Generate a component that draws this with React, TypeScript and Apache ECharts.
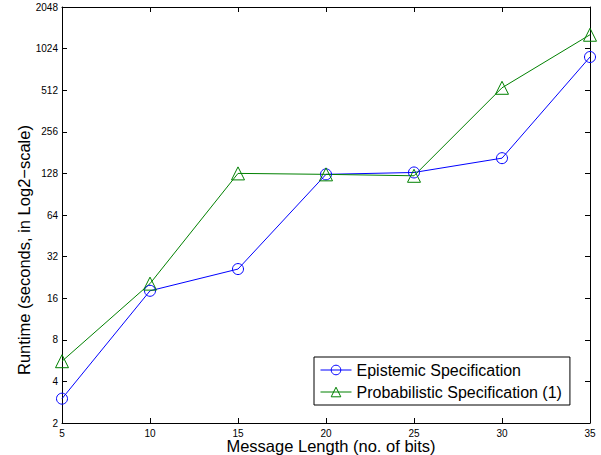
import React, { useEffect, useRef } from "react";
import * as echarts from "echarts";

const messageLengths = [5, 10, 15, 20, 25, 30, 35];
const epistemic = [3.0, 18.1, 26, 126, 130, 165, 890];
const probabilistic = [5.6, 20.4, 128, 126, 123, 533, 1290];
const yTicks = [2, 4, 8, 16, 32, 64, 128, 256, 512, 1024, 2048];

const FONT = "Liberation Sans";

export default function App() {
  const ref = useRef<HTMLDivElement>(null);
  useEffect(() => {
    if (!ref.current) return;
    const chart = echarts.init(ref.current, null, { renderer: "svg" });
    const axisCommon = {
      axisLine: { show: true, lineStyle: { color: "#000", width: 1 } },
      axisTick: { show: true, inside: true, length: 5, lineStyle: { color: "#000" } },
      splitLine: { show: false },
    };
    chart.setOption({
      animation: false,
      backgroundColor: "#fff",
      textStyle: { fontFamily: FONT },
      grid: { left: 62, right: 11, top: 7, bottom: 32 },
      legend: {
        orient: "vertical",
        left: 314,
        top: 357,
        padding: [5, 8, 5, 6],
        itemWidth: 31,
        itemHeight: 12,
        itemGap: 6,
        borderColor: "#000",
        borderWidth: 1,
        backgroundColor: "#fff",
        itemStyle: { borderWidth: 1 },
        lineStyle: { width: 1 },
        textStyle: { fontFamily: FONT, fontSize: 16, color: "#000" },
        data: ["Epistemic Specification", "Probabilistic Specification (1)"],
      },
      graphic: [
        {
          type: "text",
          x: 331,
          y: 446,
          style: {
            text: "Message Length (no. of bits)",
            font: `16.5px "${FONT}"`,
            fill: "#000",
            align: "center",
            verticalAlign: "middle",
          },
        },
        {
          type: "text",
          x: 24,
          y: 250,
          rotation: Math.PI / 2,
          style: {
            text: "Runtime (seconds, in Log2\u2212scale)",
            font: `16.5px "${FONT}"`,
            fill: "#000",
            align: "center",
            verticalAlign: "middle",
          },
        },
      ],
      xAxis: [
        {
          type: "value",
          min: 5,
          max: 35,
          interval: 5,
          axisLabel: { fontFamily: FONT, fontSize: 10, color: "#000", margin: 5 },
          ...axisCommon,
        },
        {
          type: "value",
          position: "top",
          min: 5,
          max: 35,
          interval: 5,
          axisLabel: { show: false },
          ...axisCommon,
        },
      ],
      yAxis: [
        {
          type: "log",
          logBase: 2,
          min: yTicks[0],
          max: yTicks[yTicks.length - 1],
          interval: 1,
          axisLabel: {
            fontFamily: FONT,
            fontSize: 10,
            color: "#000",
            margin: 4,
            formatter: (v: number) => String(Math.round(v)),
          },
          minorTick: { show: false },
          ...axisCommon,
        },
        {
          type: "log",
          logBase: 2,
          position: "right",
          min: yTicks[0],
          max: yTicks[yTicks.length - 1],
          interval: 1,
          axisLabel: { show: false },
          ...axisCommon,
        },
      ],
      series: [
        {
          name: "Epistemic Specification",
          type: "line",
          data: messageLengths.map((x, i) => [x, epistemic[i]]),
          symbol: "circle",
          symbolSize: 11,
          color: "#0000ff",
          lineStyle: { color: "#0000ff", width: 1 },
          itemStyle: { color: "rgba(255,255,255,0)", borderColor: "#0000ff", borderWidth: 1 },
        },
        {
          name: "Probabilistic Specification (1)",
          type: "line",
          data: messageLengths.map((x, i) => [x, probabilistic[i]]),
          symbol: "triangle",
          symbolSize: 13,
          color: "#008000",
          lineStyle: { color: "#008000", width: 1 },
          itemStyle: { color: "rgba(255,255,255,0)", borderColor: "#008000", borderWidth: 1 },
        },
      ],
    });
    return () => chart.dispose();
  }, []);
  return <div ref={ref} style={{ width: 601, height: 455, position: "absolute", left: 0, top: 0 }} />;
}
